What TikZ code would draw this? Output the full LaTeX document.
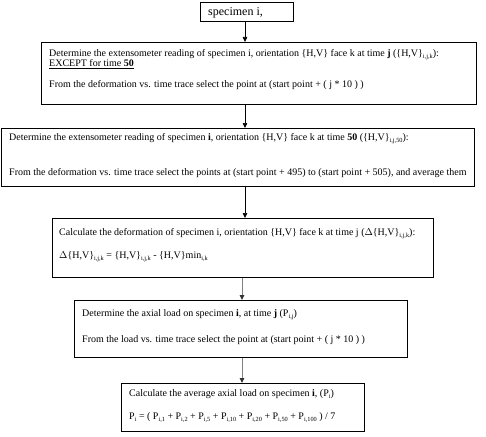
\documentclass[tikz,border=0pt]{standalone}
\usepackage{fontspec}
\setmainfont{Liberation Serif}
\usetikzlibrary{arrows.meta}
\newcommand{\sbs}[1]{\raisebox{-2.2pt}{\fontsize{6.3}{7}\selectfont #1}}
\tikzset{
  box/.style={draw=black, line width=0.9pt, inner sep=0pt},
  txt/.style={anchor=base west, inner sep=0pt, font=\fontsize{10}{11}\selectfont},
  conn/.style={draw=black, line width=0.7pt, -{Triangle[length=5pt,width=4.5pt]}},
  conng/.style={draw=black!50, line width=1pt, -{Triangle[length=5pt,width=4.5pt,color=black!80,fill=black!80]}}
}
\begin{document}
\begin{tikzpicture}[x=1pt,y=-1pt]
\useasboundingbox (0,0) rectangle (486,436);
% boxes
\node[box, minimum width=93pt, minimum height=19pt, anchor=north west] (b1) at (200,2) {};
\node[box, minimum width=435pt, minimum height=62pt, anchor=north west] (b2) at (41,42) {};
\node[box, minimum width=473pt, minimum height=58pt, anchor=north west] (b3) at (1,128) {};
\node[box, minimum width=381pt, minimum height=59pt, anchor=north west] (b4) at (52,218) {};
\node[box, minimum width=333pt, minimum height=57pt, anchor=north west] (b5) at (74,300) {};
\node[box, minimum width=243pt, minimum height=48pt, anchor=north west] (b6) at (121,383) {};
% texts
\node[anchor=base west, inner sep=0pt, font=\fontsize{12}{13}\selectfont] (t1) at (208,15.5) {specimen i,};
\node[txt] (t2a) at (49,56.5) {Determine the extensometer reading of specimen i, orientation \{H,V\} face k at time \textbf{j} (\{H,V\}\sbs{i,j,k}):};
\node[txt] (t2b) at (49,66.5) {\underline{EXCEPT for time \textbf{50}}};
\node[txt] (t2c) at (49,87.5) {From the deformation vs. time trace select the point at (start point + ( j * 10 ) )};
\node[txt] (t3a) at (9,140.5) {Determine the extensometer reading of specimen \textbf{i}, orientation \{H,V\} face k at time \textbf{50} (\{H,V\}\sbs{i,j,50}):};
\node[txt] (t3b) at (9,175) {From the deformation vs. time trace select the points at (start point + 495) to (start point + 505), and average them};
\node[txt] (t4a) at (59,235.5) {Calculate the deformation of specimen i, orientation \{H,V\} face k at time j ($\Delta$\{H,V\}\sbs{i,j,k}):};
\node[txt] (t4b) at (59,258.5) {$\Delta$\{H,V\}\sbs{i,j,k} = \{H,V\}\sbs{i,j,k} - \{H,V\}min\sbs{i,k}};
\node[txt] (t5a) at (82,316.5) {Determine the axial load on specimen \textbf{i}, at time \textbf{j} (P\sbs{i,j})};
\node[txt] (t5b) at (82,342.5) {From the load vs. time trace select the point at (start point + ( j * 10 ) )};
\node[txt] (t6a) at (129,396.5) {Calculate the average axial load on specimen \textbf{i}, (P\sbs{i})};
\node[txt] (t6b) at (129,419.5) {P\sbs{i} = ( P\sbs{i,1} + P\sbs{i,2} + P\sbs{i,5} + P\sbs{i,10} + P\sbs{i,20} + P\sbs{i,50} + P\sbs{i,100} ) / 7};
% connectors
\draw[conn] (b1.south -| 245,0) -- (b2.north -| 245,0);
\draw[conn] (b2.south -| 245,0) -- (b3.north -| 245,0);
\draw[conn] (b3.south -| 245,0) -- (b4.north -| 245,0);
\draw[conng] (b4.south -| 242,0) -- (b5.north -| 242,0);
\draw[conng] (b5.south -| 242,0) -- (b6.north -| 242,0);
\end{tikzpicture}
\end{document}
